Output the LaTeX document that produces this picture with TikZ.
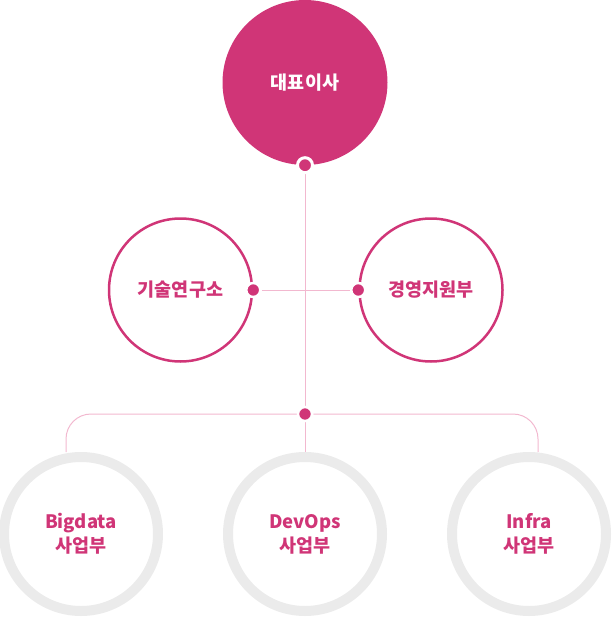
\documentclass[tikz,border=0pt]{standalone}
\usepackage{fontspec}
\setmainfont{Noto Sans CJK KR}
\usetikzlibrary{backgrounds}
\definecolor{ruby}{HTML}{D03577}
\definecolor{blush}{HTML}{F2B8CF}
\definecolor{ash}{HTML}{EBEBEB}
\tikzset{ head/.style = { circle
                        , fill = ruby
                        , text = white
                        , inner sep    = 0pt
                        , minimum size = 165pt
                        },
          unit/.style = { circle
                        , draw = ruby
                        , line width   = 2.5pt
                        , text = ruby
                        , inner sep    = 0pt
                        , minimum size = 143pt
                        },
          biz/.style  = { circle
                        , draw = ash
                        , line width   = 10pt
                        , text = ruby
                        , align = center
                        , inner sep    = 0pt
                        , minimum size = 154pt
                        },
          knot/.style = { circle
                        , fill = ruby
                        , draw = white
                        , line width   = 2.5pt
                        , inner sep    = 0pt
                        , minimum size = 14pt
                        },
          wire/.style = { draw = blush
                        , line width = 1pt
                        }
          }

\begin{document}
\begin{tikzpicture}[x=1pt, y=-1pt,
            font=\fontsize{18.5}{24}\selectfont\bfseries]
    \useasboundingbox (0,0) rectangle (612,618);
    % top
    \node[head] (ceo) at (305,82.5) {대표이사};
    \node[knot, line width=3pt, minimum size=15pt] (ceodot) at (ceo.south) {};
    % middle row
    \node[unit] (lab)  at (180.5,290) {기술연구소};
    \node[unit] (mgmt) at (431,290)   {경영지원부};
    \node[knot] (labdot)  at (lab.east)  {};
    \node[knot] (mgmtdot) at (mgmt.west) {};
    % bottom row
    \node[biz] (bigdata) at (81,534)  {Bigdata\\사업부};
    \node[biz] (devops)  at (305,534) {DevOps\\사업부};
    \node[biz] (infra)   at (529,534) {Infra\\사업부};
    \node[knot] (hub) at (305,414) {};
    \coordinate (bl) at (66,452);
    \coordinate (br) at (538,452);
    \begin{scope}[on background layer]
        \draw[wire] (ceodot) -- (devops.north);
        \draw[wire] (labdot) -- (mgmtdot);
        \draw[wire, rounded corners=25pt] (bl) |- (hub) -| (br);
    \end{scope}
\end{tikzpicture}
\end{document}
